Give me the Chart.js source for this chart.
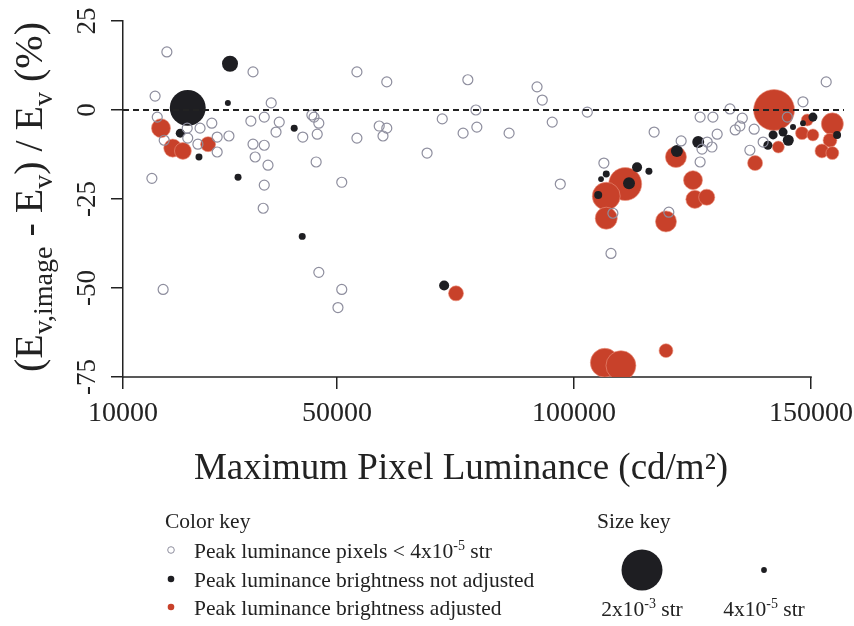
<!DOCTYPE html>
<html>
<head>
<meta charset="utf-8">
<script src="https://cdn.jsdelivr.net/npm/chart.js@4.4.1/dist/chart.umd.min.js"></script>
<style>
  html, body { margin: 0; padding: 0; background: #ffffff; }
  #wrap { width: 854px; height: 626px; }
</style>
</head>
<body>
<div id="wrap"><canvas id="c" width="854" height="626"></canvas></div>
<script>
// ---- axis ticks ----
const xTickValues = [10000, 50000, 100000, 150000];
const xTickSpans = [0.903, 1, 1];          // relative drawn width of each tick interval
const yTickValues = [-75, -50, -25, 0, 25];

// ---- peak luminance pixels < 4x10^-5 str (open circles) ----
const smallX = [
  18200, 16000, 34300, 16400, 15400, 17500, 22000, 24400, 26600, 22100,
  24000, 27600, 29800, 27600, 37700, 33900, 36400, 39200, 38600, 34300,
  36400, 34700, 37100, 36400, 36200, 45300, 45700, 46600, 43600, 46300,
  46100, 46600, 51000, 51000, 50200, 54200, 60500, 58900, 60500, 59700,
  54200, 69000, 77600, 92200, 93300, 79300, 72200, 79500, 76600, 86300,
  95400, 102800, 97100, 116900, 106300, 107800, 108200, 122600, 126600, 129300,
  128100, 130200, 129100, 127000, 126600, 120000, 132900, 135500, 135000, 134000,
  138000, 137100, 139900, 148300, 153200, 145000, 17700
];
const smallY = [
  16.3, 3.9, 10.7, -2.0, -19.2, -50.4, -5.1, -5.1, -3.7, -7.9,
  -9.6, -7.6, -7.3, -11.8, 2.0, -3.1, -2.0, -3.4, -6.2, -9.6,
  -9.9, -13.2, -15.5, -21.1, -27.6, -1.4, -2.0, -3.7, -7.6, -6.8,
  -14.6, -45.6, -20.3, -50.4, -55.5, 10.7, 7.9, -4.5, -5.1, -7.3,
  -7.9, -12.1, 8.5, 6.5, 2.8, 0.0, -2.5, -4.8, -6.5, -6.5,
  -3.4, -0.6, -20.8, -6.2, -14.9, -40.3, -29.0, -8.7, -2.0, -2.0,
  -9.0, -6.8, -10.4, -11.0, -14.6, -28.7, 0.3, -2.3, -4.5, -5.6,
  -5.4, -11.3, -9.0, 2.3, 7.9, -2.0, -8.5
];

// ---- peak luminance brightness not adjusted (black) ----
const notAdjX = [
  22100, 30000, 29600, 20700, 24200, 31500, 42000, 43500, 72600, 111600,
  113300, 115800, 106800, 105700, 105100, 121700, 126200, 140900, 142000, 144100,
  145200, 146200, 148300, 150400, 155500
];
const notAdjY = [
  0.6, 13.0, 2.0, -6.5, -13.2, -18.9, -5.1, -35.5, -49.3, -20.6,
  -16.1, -17.2, -18.0, -19.4, -23.9, -11.5, -9.0, -9.9, -7.0, -6.2,
  -8.5, -4.8, -3.7, -2.0, -7.0
];
const notAdjStr = [
  0.00154, 0.000305, 0.000043, 0.000097, 0.000058, 0.000058, 0.000058, 0.000058, 0.00012, 0.00017,
  0.00012, 0.000058, 0.000058, 0.00004, 0.000076, 0.00017, 0.00017, 0.000097, 0.000097, 0.000097,
  0.000144, 0.000043, 0.00004, 0.000097, 0.000076
];

// ---- peak luminance brightness adjusted (red) ----
const adjX = [
  17100, 19300, 21200, 25900, 75100, 142200, 154500, 149200, 148100, 150400,
  154000, 152300, 154500, 143100, 138200, 121500, 125100, 125500, 128000, 119400,
  110800, 106800, 106800, 106500, 109900, 119400
];
const adjY = [
  -5.1, -10.7, -11.5, -9.6, -51.5, 0.0, -3.9, -2.8, -6.5, -7.0,
  -8.5, -11.5, -12.1, -10.4, -14.9, -13.2, -19.7, -25.1, -24.5, -31.3,
  -20.8, -24.2, -30.4, -71.0, -71.8, -67.6
];
const adjStr = [
  0.00043, 0.00039, 0.00034, 0.00027, 0.00027, 0.002, 0.00058, 0.00017, 0.0002, 0.00017,
  0.00023, 0.00023, 0.0002, 0.00017, 0.00027, 0.00053, 0.00043, 0.00039, 0.00031, 0.00053,
  0.0013, 0.00093, 0.00058, 0.001, 0.00107, 0.00023
];

// size key entries (solid angle, str)
const sizeKeyStr = [0.002, 0.00004];
const sizeKeyLabels = [["2x10", "-3", " str"], ["4x10", "-5", " str"]];

// ---- styling ----
const SERIF = "'Liberation Serif', 'Times New Roman', serif";
const INK = '#222222';
const RED = '#c8412a';
const BLACK = '#1e1e22';
const OPEN = '#8e8e9e';
const OPEN_R = 5;

// marker area proportional to solid angle
function radiusFor(str) { return 458 * Math.sqrt(str); }

function pts(xs, ys, ss) {
  return xs.map((x, i) => ss ? { x: x, y: ys[i], r: radiusFor(ss[i]) } : { x: x, y: ys[i] });
}

// keep the plot area fixed: large bubbles must not widen the layout padding
Chart.BubbleController.prototype.getMaxOverflow = function () { return false; };

// Linear scale whose tick intervals can be drawn with unequal widths
class SegmentedScale extends Chart.LinearScale {
  static id = 'segmented';
  buildTicks() {
    return this.options.breaks.values.map(v => ({ value: v }));
  }
  _toUnit(v) {
    const { values, spans } = this.options.breaks;
    let pos = 0;
    for (let i = 0; i < values.length - 1; i++) {
      const a = values[i], b = values[i + 1];
      if (v <= b || i === values.length - 2) return pos + (v - a) / (b - a) * spans[i];
      pos += spans[i];
    }
    return pos;
  }
  _fromUnit(u) {
    const { values, spans } = this.options.breaks;
    let pos = 0;
    for (let i = 0; i < values.length - 1; i++) {
      const a = values[i], b = values[i + 1];
      if (u <= pos + spans[i] || i === values.length - 2) return a + (u - pos) / spans[i] * (b - a);
      pos += spans[i];
    }
    return values[values.length - 1];
  }
  getPixelForValue(value) {
    const a = this._toUnit(this.min), b = this._toUnit(this.max);
    return this.getPixelForDecimal((this._toUnit(value) - a) / (b - a));
  }
  getValueForPixel(pixel) {
    const a = this._toUnit(this.min), b = this._toUnit(this.max);
    return this._fromUnit(a + this.getDecimalForPixel(pixel) * (b - a));
  }
}
Chart.register(SegmentedScale);

// text runs with superscript / subscript pieces
function runWidth(ctx, parts, size, small) {
  let w = 0;
  for (const p of parts) {
    ctx.font = (p.k ? small : size) + 'px ' + SERIF;
    w += ctx.measureText(p.t).width;
  }
  return w;
}
function drawRuns(ctx, parts, x, y, size, small, shift) {
  let cx = x;
  for (const p of parts) {
    ctx.font = (p.k ? small : size) + 'px ' + SERIF;
    const dy = p.k === 'sup' ? -shift : (p.k === 'sub' ? shift : 0);
    ctx.fillText(p.t, cx, y + dy);
    cx += ctx.measureText(p.t).width;
  }
}

const decorations = {
  id: 'decorations',
  beforeDatasetsDraw(chart) {
    // x axis line, spanning the first to the last tick only
    const { ctx, chartArea, scales } = chart;
    const x0 = scales.x.getPixelForValue(xTickValues[0]);
    const x1 = scales.x.getPixelForValue(xTickValues[xTickValues.length - 1]);
    ctx.save();
    ctx.strokeStyle = INK;
    ctx.lineWidth = 1.5;
    ctx.beginPath();
    ctx.moveTo(x0 - 0.75, chartArea.bottom);
    ctx.lineTo(x1 + 0.75, chartArea.bottom);
    ctx.stroke();
    ctx.restore();
  },
  afterDatasetsDraw(chart) {
    const { ctx, chartArea, scales } = chart;
    // zero reference line
    const y0 = scales.y.getPixelForValue(0);
    ctx.save();
    ctx.strokeStyle = INK;
    ctx.lineWidth = 2;
    ctx.setLineDash([6, 4]);
    ctx.beginPath();
    ctx.moveTo(chartArea.left, y0);
    ctx.lineTo(chartArea.right - 4, y0);
    ctx.stroke();
    ctx.restore();
  },
  afterDraw(chart) {
    const { ctx, scales, chartArea } = chart;
    ctx.save();
    ctx.fillStyle = INK;

    // x tick labels
    ctx.font = '28px ' + SERIF;
    ctx.textAlign = 'center';
    ctx.textBaseline = 'middle';
    for (const v of xTickValues) {
      ctx.fillText(String(v), scales.x.getPixelForValue(v), chartArea.bottom + 37);
    }

    // y tick labels, rotated
    ctx.font = '27px ' + SERIF;
    for (const v of yTickValues) {
      const py = scales.y.getPixelForValue(v);
      ctx.save();
      ctx.translate(88, py);
      ctx.rotate(-Math.PI / 2);
      ctx.fillText(String(v), 0, 0);
      ctx.restore();
    }

    // y axis title
    const yTitle = [
      { t: '(E' }, { t: 'v,image', k: 'sub' }, { t: ' - E' }, { t: 'v', k: 'sub' },
      { t: ') / E' }, { t: 'v', k: 'sub' }, { t: ' (%)' }
    ];
    ctx.textAlign = 'left';
    ctx.textBaseline = 'alphabetic';
    const tw = runWidth(ctx, yTitle, 40, 28);
    ctx.save();
    ctx.translate(42, 197);
    ctx.rotate(-Math.PI / 2);
    drawRuns(ctx, yTitle, -tw / 2, 0, 40, 28, 10);
    ctx.restore();

    // x axis title
    ctx.font = '37px ' + SERIF;
    ctx.textAlign = 'center';
    ctx.fillText('Maximum Pixel Luminance (cd/m\u00B2)', 461, 479);

    // colour key
    ctx.textAlign = 'left';
    ctx.font = '21.5px ' + SERIF;
    ctx.fillText('Color key', 165, 528);
    const rows = [
      { y: 551, parts: [{ t: 'Peak luminance pixels < 4x10' }, { t: '-5', k: 'sup' }, { t: ' str' }], kind: 'open' },
      { y: 580, parts: [{ t: 'Peak luminance brightness not adjusted' }], kind: 'black' },
      { y: 608, parts: [{ t: 'Peak luminance brightness adjusted' }], kind: 'red' }
    ];
    for (const r of rows) {
      ctx.beginPath();
      ctx.arc(171, r.y - 1, 3.3, 0, Math.PI * 2);
      if (r.kind === 'open') {
        ctx.strokeStyle = OPEN; ctx.lineWidth = 1; ctx.stroke();
      } else {
        ctx.fillStyle = r.kind === 'red' ? RED : BLACK; ctx.fill();
      }
      ctx.fillStyle = INK;
      drawRuns(ctx, r.parts, 194, r.y + 7, 21.5, 14, 8);
    }

    // size key
    ctx.font = '21.5px ' + SERIF;
    ctx.fillText('Size key', 597, 528);
    const keyX = [642, 764];
    sizeKeyStr.forEach((s, i) => {
      ctx.beginPath();
      ctx.fillStyle = BLACK;
      ctx.arc(keyX[i], 570, radiusFor(s), 0, Math.PI * 2);
      ctx.fill();
      ctx.fillStyle = INK;
      const parts = [{ t: sizeKeyLabels[i][0] }, { t: sizeKeyLabels[i][1], k: 'sup' }, { t: sizeKeyLabels[i][2] }];
      const w = runWidth(ctx, parts, 21.5, 14);
      drawRuns(ctx, parts, keyX[i] - w / 2, 616, 21.5, 14, 8);
    });
    ctx.restore();
  }
};

const clipBottomOnly = { left: false, top: false, right: false, bottom: 0 };

new Chart(document.getElementById('c'), {
  type: 'bubble',
  data: {
    datasets: [
      {
        label: 'Peak luminance pixels < 4x10-5 str',
        data: pts(smallX, smallY),
        radius: OPEN_R,
        backgroundColor: 'rgba(0,0,0,0)',
        borderColor: OPEN,
        borderWidth: 1.2,
        order: 1,
        clip: clipBottomOnly
      },
      {
        label: 'Peak luminance brightness not adjusted',
        data: pts(notAdjX, notAdjY, notAdjStr),
        backgroundColor: BLACK,
        borderColor: BLACK,
        borderWidth: 0,
        order: 2,
        clip: clipBottomOnly
      },
      {
        label: 'Peak luminance brightness adjusted',
        data: pts(adjX, adjY, adjStr),
        backgroundColor: RED,
        borderColor: 'rgba(236,150,130,0.75)',
        borderWidth: 0.8,
        order: 3,
        clip: clipBottomOnly
      }
    ]
  },
  options: {
    responsive: false,
    animation: false,
    events: [],
    layout: { padding: { top: 21, right: 6, left: 0, bottom: 0 } },
    plugins: { legend: { display: false }, tooltip: { enabled: false } },
    scales: {
      x: {
        type: 'segmented',
        min: 10000,
        max: 157800,
        breaks: { values: xTickValues, spans: xTickSpans },
        grid: { display: true, drawOnChartArea: false, drawTicks: true, tickLength: 12, color: INK, lineWidth: 1.5 },
        border: { display: false },
        ticks: { display: false },
        afterFit: s => { s.height = 249; s.paddingLeft = 0; s.paddingRight = 0; }
      },
      y: {
        type: 'linear',
        min: -75,
        max: 25,
        afterBuildTicks: s => { s.ticks = yTickValues.map(v => ({ value: v })); },
        grid: { display: true, drawOnChartArea: false, drawTicks: true, tickLength: 12, color: INK, lineWidth: 1.5 },
        border: { display: true, color: INK, width: 1.5 },
        ticks: { display: false },
        afterFit: s => { s.width = 123; s.paddingTop = 0; s.paddingBottom = 0; }
      }
    }
  },
  plugins: [decorations]
});
</script>
</body>
</html>
